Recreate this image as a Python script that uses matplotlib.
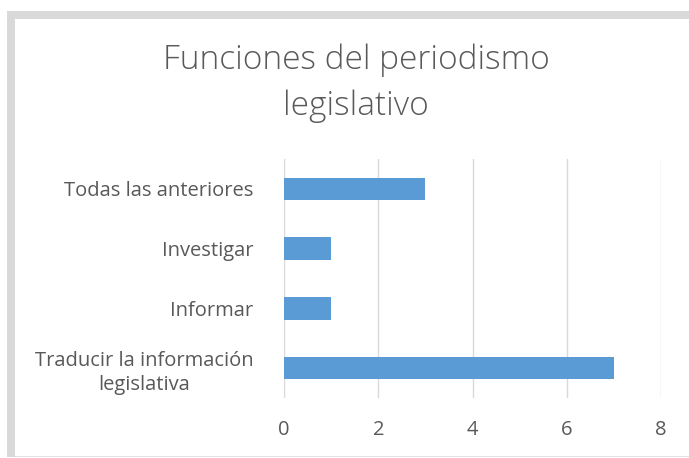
import matplotlib
matplotlib.use("Agg")
import matplotlib.pyplot as plt
from matplotlib.patches import Rectangle

# data (bottom to top, as drawn)
categories = ["Traducir la información\nlegislativa", "Informar", "Investigar", "Todas las anteriores"]
values = [7, 1, 1, 3]
x_ticks = [0, 2, 4, 6, 8]

title = "Funciones del periodismo\nlegislativo"
bar_color = "#5B9BD5"
text_color = "#595959"
grid_color = "#D9D9D9"

plt.rcParams["font.family"] = ["Open Sans", "DejaVu Sans"]

W, H = 689, 458
fig = plt.figure(figsize=(W / 100, H / 100), dpi=100)

# outer frame like the excel chart border
frame = "#D9D9D9"
fig.patches.append(Rectangle((7 / W, 1 - 457 / H), 8 / W, 446 / H,
                             transform=fig.transFigure, color=frame, lw=0))
fig.patches.append(Rectangle((7 / W, 1 - 19 / H), 682 / W, 8 / H,
                             transform=fig.transFigure, color=frame, lw=0))
fig.patches.append(Rectangle((15 / W, 1 - 457 / H), 674 / W, 1 / H,
                             transform=fig.transFigure, color="#E3E3E3", lw=0))

ax = fig.add_axes([284 / W, 1 - 398 / H, 377 / W, 239 / H])
ypos = range(len(categories))
ax.barh(ypos, values, height=0.38, color=bar_color, zorder=3)

ax.set_xlim(0, 8)
ax.set_ylim(-0.5, len(categories) - 0.5)
ax.set_xticks(x_ticks)
ax.set_yticks(list(ypos))
ax.set_yticklabels(categories, ha="right", multialignment="center", linespacing=1.3)
ax.tick_params(axis="y", length=0, pad=22, labelsize=14.5, labelcolor=text_color)
ax.tick_params(axis="x", length=0, pad=16, labelsize=14.5, labelcolor=text_color)

ax.grid(axis="x", color=grid_color, lw=1, zorder=0)
for s in ax.spines.values():
    s.set_visible(False)

fig.text(356 / W, 1 - 83.5 / H, title, ha="center", va="center",
         fontsize=24, color=text_color, linespacing=1.5, fontweight="light")

fig.savefig("out.png", dpi=100)
